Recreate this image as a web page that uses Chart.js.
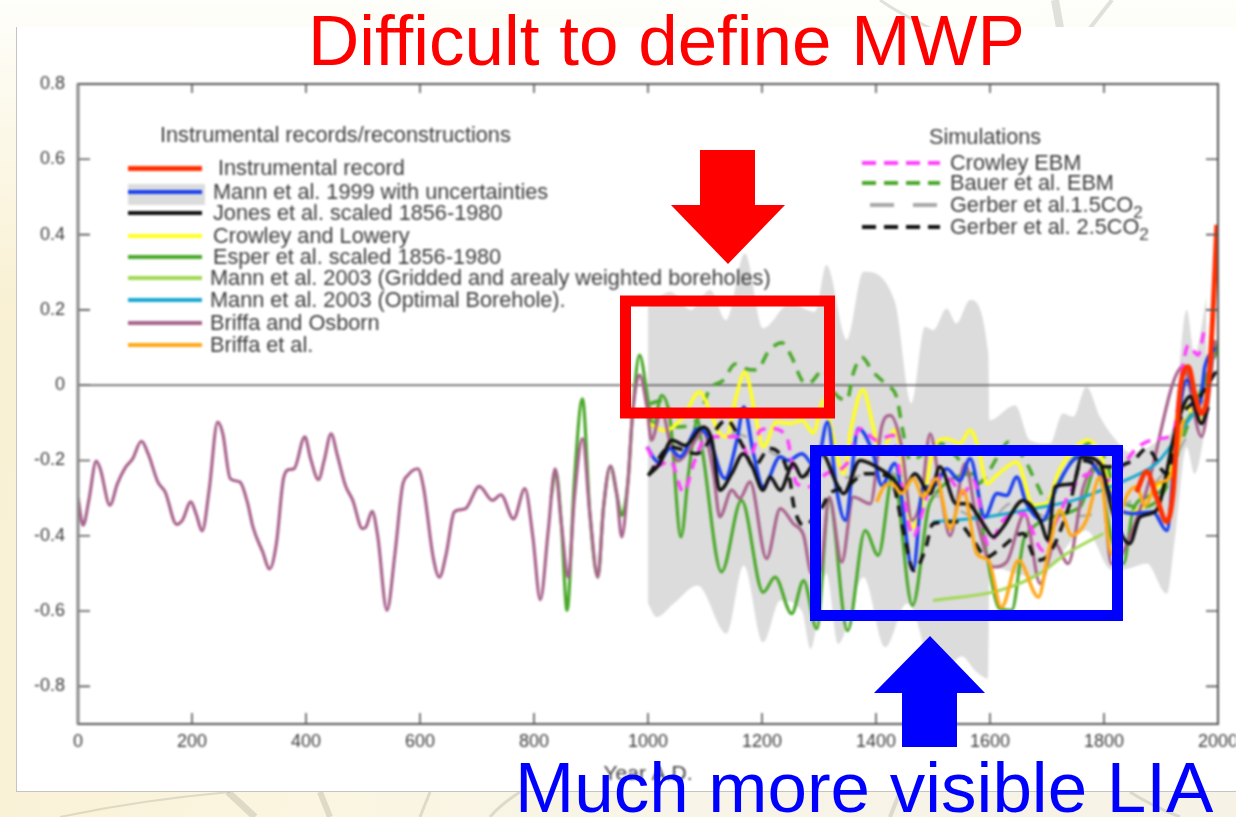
<!DOCTYPE html>
<html>
<head>
<meta charset="utf-8">
<title>Difficult to define MWP</title>
<script src="https://cdn.jsdelivr.net/npm/chart.js@4"></script>
<style>
    html, body { margin: 0; padding: 0; width: 1236px; height: 817px; overflow: hidden; background: #fff; }
    body { position: relative; font-family: "Liberation Sans", Arial, sans-serif; }
    .back { position: absolute; left: 0; top: 0; width: 1236px; height: 817px;
            background: linear-gradient(100deg, #f9f0d2 0%, #fbf5e0 30%, #f8f5e8 60%, #f6f3e6 100%); }
    .backTop { position: absolute; left: 0; top: 0; width: 1236px; height: 300px;
            background: linear-gradient(180deg, #fefefa 0%, rgba(254,254,250,0) 100%); }
    .panel { position: absolute; left: 16px; top: 27px; width: 1220px; height: 765px; background: #fff;
             border-left: 1px solid #c4c4c0; border-bottom: 1px solid #c4c4c0; box-sizing: border-box; }
    .soft { position: absolute; left: 0; top: 0; width: 1236px; height: 817px; filter: blur(0.8px); }
    canvas { position: absolute; left: 0; top: 0; }
    .legTitle, .legRow { position: absolute; color: #3c3c3c; font-size: 21.7px; line-height: 20px; white-space: nowrap; }
    .swatch { position: absolute; height: 0; }
    .bandSwatch { position: absolute; left: 128px; top: 184px; width: 77px; height: 21px; background: #dcdcdc; }
    sub { font-size: 17px; line-height: 0; vertical-align: -6px; }
    .big { position: absolute; font-size: 71px; line-height: 71px; white-space: nowrap; }
    svg.over, svg.sketch { position: absolute; left: 0; top: 0; }
</style>
</head>
<body>
<div class="back"></div>
<div class="backTop"></div>
<svg class="sketch" width="1236" height="817" fill="none" stroke="#8c8c80" stroke-opacity="0.25">
    <path d="M1055 0 L1060 28" stroke-width="8"/>
    <path d="M1112 0 L1090 28" stroke-width="4"/>
    <path d="M880 0 Q900 14 930 28" stroke-width="3"/>
    <path d="M60 817 Q140 800 230 792" stroke-width="2"/>
    <path d="M228 792 L255 817" stroke-width="7"/>
    <path d="M320 792 L330 817" stroke-width="6"/>
    <path d="M430 792 L420 817" stroke-width="3"/>
    <path d="M520 792 Q500 805 490 817" stroke-width="3"/>
    <path d="M900 792 L890 817" stroke-width="4"/>
    <path d="M1130 792 Q1150 805 1180 817" stroke-width="3"/>
</svg>
<div class="panel"></div>

<div class="soft">
    <canvas id="chart" width="1236" height="817"></canvas>
    <div class="bandSwatch"></div>
    <div id="legend"></div>
</div>

<svg class="over" width="1236" height="817">
    <rect x="625.5" y="301" width="204" height="112" fill="none" stroke="#ff0000" stroke-width="11"/>
    <rect x="815.5" y="450.5" width="302" height="165" fill="none" stroke="#0000ff" stroke-width="11"/>
    <path d="M700 150 H755 V205 H785 L728 264 L671 205 H700 Z" fill="#ff0000"/>
    <path d="M902 747 H957 V693 H985 L930 636 L874 693 H902 Z" fill="#0000ff"/>
</svg>
<div class="big" style="left:308px; top:5px; color:#ff0000;">Difficult to define MWP</div>
<div class="big" style="left:515px; top:752px; color:#0000ff;">Much more visible LIA</div>

<script>
    // --- Datos (anio, anomalia) ---
    const xTicks = [0, 200, 400, 600, 800, 1000, 1200, 1400, 1600, 1800, 2000];
    const yTicks = [-0.8, -0.6, -0.4, -0.2, 0, 0.2, 0.4, 0.6, 0.8];

    const zeroYears = [0, 2000];
    const zeroValues = [0, 0];

    const bandUpperYears = [1000, 1039, 1075, 1109, 1137, 1170, 1202, 1249, 1293, 1313, 1349, 1378, 1433, 1462, 1486, 1500, 1524, 1541, 1565, 1597, 1599, 1644, 1670, 1705, 1728, 1746, 1769, 1793, 1816, 1851, 1898, 1921, 1945, 1959, 1980];
    const bandUpperValues = [0.208, 0.248, 0.2, 0.253, 0.173, 0.35, 0.151, 0.217, 0.195, 0.319, 0.12, 0.301, 0.222, -0.049, 0.155, 0.146, 0.204, 0.164, 0.226, 0.084, -0.093, -0.053, -0.146, -0.155, -0.075, -0.084, -0.004, -0.084, -0.137, -0.182, -0.146, -0.111, 0.2, 0.084, 0.235];
    const bandLowerYears = [1000, 1015, 1045, 1087, 1138, 1168, 1202, 1232, 1270, 1285, 1313, 1334, 1378, 1416, 1454, 1466, 1490, 1520, 1550, 1575, 1597, 1599, 1676, 1705, 1769, 1813, 1834, 1875, 1910, 1924, 1945, 1959, 1980];
    const bandLowerValues = [-0.58, -0.616, -0.58, -0.532, -0.66, -0.479, -0.683, -0.572, -0.6, -0.7, -0.5, -0.687, -0.51, -0.696, -0.58, -0.6, -0.72, -0.76, -0.72, -0.76, -0.78, -0.483, -0.51, -0.483, -0.386, -0.49, -0.49, -0.474, -0.554, -0.412, -0.164, -0.235, -0.1];

    const osbornYears = [0, 9, 19, 32, 39, 56, 69, 83, 96, 111, 124, 140, 153, 173, 183, 198, 207, 218, 230, 245, 254, 267, 284, 297, 307, 324, 336, 348, 361, 371, 379, 398, 408, 422, 432, 444, 455, 469, 482, 499, 505, 516, 526, 542, 556, 569, 579, 596, 606, 623, 634, 646, 660, 670, 680, 704, 727, 742, 764, 784, 798, 811, 825, 837, 848, 860, 871, 885, 898, 912, 922, 934, 945, 954, 965, 973, 985, 998, 1006, 1024, 1039, 1053, 1074, 1097, 1115, 1126, 1147, 1161, 1179, 1208, 1232, 1255, 1273, 1287, 1302, 1318, 1340, 1360, 1390, 1410, 1425, 1445, 1463, 1480, 1495, 1512, 1530, 1556, 1577, 1606, 1629, 1661, 1688, 1714, 1737, 1764, 1793, 1813, 1869, 1939, 1971, 1995];
    const osbornValues = [-0.3, -0.372, -0.306, -0.202, -0.222, -0.319, -0.262, -0.219, -0.195, -0.149, -0.186, -0.257, -0.284, -0.37, -0.359, -0.31, -0.341, -0.387, -0.279, -0.098, -0.129, -0.248, -0.257, -0.31, -0.377, -0.443, -0.488, -0.421, -0.244, -0.224, -0.222, -0.137, -0.195, -0.251, -0.199, -0.129, -0.186, -0.266, -0.306, -0.381, -0.377, -0.335, -0.403, -0.598, -0.448, -0.27, -0.239, -0.222, -0.27, -0.456, -0.51, -0.448, -0.337, -0.331, -0.328, -0.269, -0.306, -0.291, -0.355, -0.275, -0.403, -0.57, -0.386, -0.222, -0.368, -0.51, -0.297, -0.142, -0.341, -0.51, -0.324, -0.215, -0.288, -0.403, -0.253, -0.075, 0.027, -0.058, -0.146, -0.066, -0.155, -0.201, -0.168, -0.124, -0.235, -0.35, -0.279, -0.301, -0.257, -0.461, -0.328, -0.368, -0.399, -0.5, -0.49, -0.297, -0.47, -0.297, -0.315, -0.11, -0.08, -0.164, -0.359, -0.293, -0.129, -0.27, -0.4, -0.208, -0.359, -0.483, -0.47, -0.341, -0.527, -0.421, -0.474, -0.27, -0.208, -0.474, -0.306, 0.05, -0.137, 0.12];

    const esperYears = [830, 838, 848, 858, 871, 885, 898, 912, 922, 934, 945, 954, 965, 973, 985, 1001, 1009, 1024, 1039, 1058, 1071, 1087, 1097, 1129, 1164, 1202, 1223, 1252, 1273, 1296, 1318, 1350, 1381, 1404, 1430, 1464, 1492, 1500, 1570, 1594, 1617, 1638, 1661, 1758, 1787, 1813, 1834, 1851, 1875, 1910, 1933, 1957, 1974, 2000];
    const esperValues = [-0.3, -0.226, -0.368, -0.598, -0.25, -0.036, -0.341, -0.51, -0.324, -0.215, -0.288, -0.346, -0.253, -0.075, 0.08, -0.049, -0.11, -0.027, -0.093, -0.403, -0.235, -0.093, -0.19, -0.496, -0.306, -0.55, -0.51, -0.607, -0.519, -0.647, -0.306, -0.652, -0.386, -0.452, -0.235, -0.585, -0.324, -0.297, -0.235, -0.448, -0.594, -0.598, -0.403, -0.324, -0.217, -0.403, -0.474, -0.332, -0.297, -0.26, -0.129, -0.066, -0.004, 0.11];

    const crowleyYears = [1000, 1030, 1062, 1090, 1106, 1126, 1138, 1153, 1170, 1188, 1202, 1226, 1249, 1270, 1290, 1308, 1322, 1343, 1357, 1377, 1395, 1407, 1433, 1448, 1464, 1483, 1500, 1524, 1547, 1565, 1579, 1595, 1612, 1647, 1676, 1699, 1723, 1772, 1793, 1810, 1834, 1872, 1892, 1916, 1933, 1971];
    const crowleyValues = [-0.1, -0.12, -0.084, -0.018, -0.058, -0.129, -0.137, -0.04, 0.035, -0.075, -0.164, -0.098, -0.102, -0.093, -0.127, -0.04, -0.12, -0.235, -0.11, -0.012, -0.11, -0.182, -0.12, -0.217, -0.377, -0.306, -0.173, -0.142, -0.155, -0.12, -0.164, -0.262, -0.239, -0.204, -0.319, -0.315, -0.222, -0.146, -0.182, -0.27, -0.341, -0.319, -0.27, -0.235, -0.05, -0.093];

    const mann1999Years = [998, 1018, 1039, 1056, 1088, 1106, 1135, 1156, 1168, 1185, 1202, 1232, 1246, 1270, 1295, 1315, 1331, 1346, 1369, 1395, 1410, 1433, 1465, 1483, 1500, 1524, 1547, 1565, 1591, 1612, 1629, 1647, 1664, 1693, 1717, 1758, 1775, 1805, 1828, 1851, 1886, 1910, 1927, 1945, 1968, 1977, 1995];
    const mann1999Values = [-0.164, -0.204, -0.168, -0.19, -0.115, -0.137, -0.248, -0.146, -0.058, -0.182, -0.27, -0.19, -0.2, -0.182, -0.22, -0.098, -0.279, -0.359, -0.115, -0.182, -0.266, -0.208, -0.492, -0.27, -0.27, -0.222, -0.253, -0.195, -0.35, -0.288, -0.293, -0.244, -0.315, -0.359, -0.27, -0.19, -0.2, -0.27, -0.332, -0.341, -0.337, -0.386, -0.137, 0.013, -0.049, 0.049, 0.1];

    const jonesYears = [1000, 1020, 1042, 1065, 1097, 1112, 1126, 1147, 1167, 1182, 1202, 1214, 1232, 1255, 1270, 1305, 1331, 1343, 1372, 1401, 1427, 1448, 1468, 1495, 1512, 1541, 1560, 1588, 1606, 1623, 1658, 1688, 1702, 1714, 1746, 1761, 1793, 1816, 1845, 1863, 1892, 1927, 1951, 1971, 1983];
    const jonesValues = [-0.24, -0.21, -0.146, -0.16, -0.111, -0.146, -0.279, -0.235, -0.182, -0.213, -0.279, -0.244, -0.279, -0.208, -0.244, -0.182, -0.262, -0.288, -0.2, -0.217, -0.244, -0.279, -0.235, -0.288, -0.217, -0.315, -0.315, -0.368, -0.403, -0.377, -0.306, -0.359, -0.412, -0.27, -0.262, -0.19, -0.208, -0.341, -0.421, -0.35, -0.332, -0.11, -0.03, -0.102, -0.058];

    const gerber25Years = [1001, 1039, 1085, 1138, 1167, 1185, 1214, 1249, 1255, 1273, 1302, 1319, 1349, 1381, 1425, 1448, 1466, 1486, 1500, 1541, 1571, 1594, 1614, 1658, 1682, 1699, 1740, 1761, 1805, 1851, 1875, 1910, 1933, 1968, 1998];
    const gerber25Values = [-0.239, -0.164, -0.182, -0.093, -0.164, -0.217, -0.168, -0.253, -0.315, -0.372, -0.332, -0.288, -0.27, -0.235, -0.244, -0.386, -0.492, -0.439, -0.368, -0.363, -0.412, -0.457, -0.439, -0.394, -0.465, -0.457, -0.315, -0.2, -0.217, -0.2, -0.168, -0.235, -0.093, -0.031, 0.04];

    const gerber15Years = [1085, 1132, 1156, 1220, 1313, 1355, 1419, 1600, 1635, 1705, 1910, 1998];
    const gerber15Values = [-0.182, -0.129, -0.13, -0.182, -0.253, -0.244, -0.235, -0.359, -0.315, -0.35, -0.225, 0.04];

    const crowleyEbmYears = [998, 1018, 1039, 1062, 1082, 1103, 1156, 1179, 1197, 1214, 1243, 1261, 1284, 1313, 1349, 1372, 1401, 1430, 1442, 1466, 1477, 1500, 1524, 1553, 1571, 1597, 1623, 1658, 1693, 1717, 1746, 1775, 1805, 1860, 1895, 1921, 1939, 1948, 1965, 1977];
    const crowleyEbmValues = [-0.164, -0.213, -0.2, -0.284, -0.2, -0.137, -0.137, -0.19, -0.12, -0.115, -0.137, -0.262, -0.27, -0.235, -0.208, -0.115, -0.146, -0.133, -0.235, -0.403, -0.359, -0.253, -0.244, -0.288, -0.253, -0.425, -0.359, -0.341, -0.439, -0.359, -0.27, -0.235, -0.253, -0.164, -0.142, -0.129, 0.058, 0.106, 0.08, 0.155];

    const bauerYears = [1004, 1027, 1050, 1085, 1109, 1132, 1153, 1170, 1191, 1211, 1235, 1252, 1270, 1281, 1308, 1328, 1349, 1360, 1375, 1395, 1419, 1436, 1448, 1460, 1512, 1547, 1577, 1617, 1632, 1658, 1682, 1699, 1740, 1781, 1805, 1822, 1869, 1910, 1933, 1957, 2000];
    const bauerValues = [-0.049, -0.04, -0.111, -0.093, -0.009, 0.013, 0.056, 0.044, 0.04, 0.089, 0.113, 0.075, 0.013, 0.004, 0.04, -0.022, -0.04, 0.031, 0.074, 0.035, 0, -0.031, -0.129, -0.2, -0.155, -0.2, -0.262, -0.182, -0.151, -0.19, -0.262, -0.306, -0.208, -0.151, -0.208, -0.297, -0.324, -0.27, -0.164, -0.066, 0.1];

    const briffaYears = [1401, 1416, 1428, 1445, 1465, 1483, 1506, 1530, 1553, 1577, 1597, 1620, 1650, 1685, 1702, 1723, 1743, 1769, 1793, 1813, 1834, 1857, 1872, 1892, 1916, 1940];
    const briffaValues = [-0.31, -0.266, -0.262, -0.288, -0.248, -0.297, -0.248, -0.381, -0.279, -0.448, -0.465, -0.59, -0.465, -0.563, -0.448, -0.332, -0.399, -0.359, -0.244, -0.448, -0.315, -0.27, -0.319, -0.262, -0.244, -0.09];

    const optimalYears = [1500, 1594, 1676, 1746, 1810, 1863, 1892, 1916, 1957];
    const optimalValues = [-0.363, -0.35, -0.328, -0.306, -0.27, -0.235, -0.208, -0.164, -0.075];

    const griddedYears = [1500, 1617, 1688, 1734, 1799];
    const griddedValues = [-0.572, -0.545, -0.5, -0.448, -0.394];

    const instrumentalYears = [1857, 1875, 1892, 1910, 1921, 1933, 1948, 1959, 1971, 1983, 1992, 1998];
    const instrumentalValues = [-0.284, -0.23, -0.297, -0.363, -0.288, -0.022, 0.049, -0.022, -0.075, -0.004, 0.217, 0.426];

    // --- Leyenda ---
    const leftTitle = 'Instrumental records/reconstructions';
    const leftNames = ['Instrumental record', 'Mann et al. 1999 with uncertainties', 'Jones et al. scaled 1856-1980', 'Crowley and Lowery', 'Esper et al. scaled 1856-1980', 'Mann et al. 2003 (Gridded and arealy weighted boreholes)', 'Mann et al. 2003 (Optimal Borehole).', 'Briffa and Osborn', 'Briffa et al.'];
    const leftColors = ['#ff3000', '#1a40f0', '#111111', '#ffff20', '#4aa82a', '#a0d850', '#18a8d0', '#a8638c', '#ffa818'];
    const leftTops = [168, 192, 213, 236, 257, 278, 300, 323, 345];
    const leftX = [218, 213, 213, 213, 213, 210, 210, 210, 210];

    const rightTitle = 'Simulations';
    const rightNames = ['Crowley EBM', 'Bauer et al. EBM', 'Gerber et al.1.5CO<sub>2</sub>', 'Gerber et al. 2.5CO<sub>2</sub>'];
    const rightColors = ['#ff40ff', '#4aa82a', '#a8a8a8', '#111111'];
    const rightTops = [163, 183, 205, 227];
    const rightX = [862, 862, 870, 862];
    const rightWidths = [78, 78, 67, 78];
    const rightDash = [14, 14, 24, 14];
    const rightGap = [8, 8, 19, 8];

    function pts(years, values) {
        return years.map((x, i) => ({ x: x, y: values[i] }));
    }

    function serie(label, years, values, color, width, dash) {
        return {
            label: label,
            data: pts(years, values),
            borderColor: color,
            borderWidth: width,
            borderDash: dash || [],
            pointRadius: 0,
            cubicInterpolationMode: 'monotone',
            fill: false
        };
    }

    // --- Marco y marcas hacia adentro ---
    const frameTicks = {
        id: 'frameTicks',
        afterDatasetsDraw(chart) {
            const { ctx, chartArea: a, scales } = chart;
            ctx.save();
            ctx.strokeStyle = '#555';
            ctx.lineWidth = 1.6;
            ctx.beginPath();
            xTicks.forEach(v => {
                const px = scales.x.getPixelForValue(v);
                ctx.moveTo(px, a.bottom); ctx.lineTo(px, a.bottom - 11);
                ctx.moveTo(px, a.top); ctx.lineTo(px, a.top + 9);
            });
            yTicks.forEach(v => {
                const py = scales.y.getPixelForValue(v);
                ctx.moveTo(a.left, py); ctx.lineTo(a.left + 12, py);
                ctx.moveTo(a.right, py); ctx.lineTo(a.right - 12, py);
            });
            ctx.stroke();
            ctx.lineWidth = 2;
            ctx.strokeRect(a.left, a.top, a.right - a.left, a.bottom - a.top);
            ctx.strokeStyle = '#888';
            ctx.lineWidth = 3;
            ctx.beginPath();
            ctx.moveTo(a.left, a.top);
            ctx.lineTo(a.left, a.bottom);
            ctx.stroke();
            ctx.restore();
        }
    };

    const ctx = document.getElementById('chart').getContext('2d');
    new Chart(ctx, {
        type: 'line',
        plugins: [frameTicks],
        data: {
            datasets: [
                serie('Instrumental record', instrumentalYears, instrumentalValues, '#ff3000', 5),
                serie('Briffa et al.', briffaYears, briffaValues, '#ffa818', 3.5),
                serie('Gerber et al. 2.5CO2', gerber25Years, gerber25Values, '#111111', 3.5, [11, 8]),
                serie('Jones et al. scaled 1856-1980', jonesYears, jonesValues, '#111111', 3.5),
                serie('Crowley EBM', crowleyEbmYears, crowleyEbmValues, '#ff40ff', 3.5, [11, 8]),
                serie('Mann et al. 1999 with uncertainties', mann1999Years, mann1999Values, '#1a40f0', 3.5),
                serie('Mann et al. 2003 (Optimal Borehole).', optimalYears, optimalValues, '#18a8d0', 3),
                serie('Mann et al. 2003 (Gridded and arealy weighted boreholes)', griddedYears, griddedValues, '#a0d850', 3),
                serie('Briffa and Osborn', osbornYears, osbornValues, '#a8638c', 3.2),
                serie('Crowley and Lowery', crowleyYears, crowleyValues, '#ffff20', 3.5),
                serie('Gerber et al.1.5CO2', gerber15Years, gerber15Values, '#a8a8a8', 2.5, [16, 26]),
                serie('Bauer et al. EBM', bauerYears, bauerValues, '#4aa82a', 3.5, [12, 9]),
                serie('Esper et al. scaled 1856-1980', esperYears, esperValues, '#4aa82a', 3.2),
                serie('Cero', zeroYears, zeroValues, '#555555', 1.6),
                {
                    label: 'Incertidumbre superior',
                    data: pts(bandUpperYears, bandUpperValues),
                    borderWidth: 0,
                    pointRadius: 0,
                    cubicInterpolationMode: 'monotone',
                    backgroundColor: '#dcdcdc',
                    fill: '+1'
                },
                {
                    label: 'Incertidumbre inferior',
                    data: pts(bandLowerYears, bandLowerValues),
                    borderWidth: 0,
                    pointRadius: 0,
                    cubicInterpolationMode: 'monotone',
                    fill: false
                }
            ]
        },
        options: {
            responsive: false,
            animation: false,
            layout: { padding: { top: 84, right: 18, bottom: 30 } },
            plugins: { legend: { display: false }, tooltip: { enabled: false } },
            scales: {
                x: {
                    type: 'linear',
                    min: 0,
                    max: 2000,
                    afterFit: s => { s.height = 63; s.paddingLeft = 0; s.paddingRight = 0; },
                    afterBuildTicks: s => { s.ticks = xTicks.map(v => ({ value: v })); },
                    grid: { display: false },
                    border: { display: false },
                    ticks: {
                        color: '#3c3c3c',
                        font: { family: 'Liberation Sans', size: 18 },
                        padding: -1,
                        maxRotation: 0,
                        callback: v => String(v)
                    },
                    title: { display: true, text: 'Year A.D.', color: '#3c3c3c', font: { family: 'Liberation Sans', size: 21 }, padding: 0 }
                },
                y: {
                    min: -0.9,
                    max: 0.8,
                    afterFit: s => { s.width = 78; },
                    afterBuildTicks: s => { s.ticks = yTicks.map(v => ({ value: v })); },
                    grid: { display: false },
                    border: { display: false },
                    ticks: {
                        color: '#3c3c3c',
                        font: { family: 'Liberation Sans', size: 18 },
                        padding: 5,
                        callback: v => (v === 0 ? '0' : v.toFixed(1))
                    }
                }
            }
        }
    });

    // --- Leyenda en HTML ---
    const legend = document.getElementById('legend');

    function addText(cls, html, left, centerY) {
        const el = document.createElement('div');
        el.className = cls;
        el.innerHTML = html;
        el.style.left = left + 'px';
        el.style.top = (centerY - 10) + 'px';
        legend.appendChild(el);
    }

    function addSwatch(left, width, centerY, color, weight, dash, gap) {
        const el = document.createElement('div');
        el.className = 'swatch';
        el.style.left = left + 'px';
        el.style.width = width + 'px';
        el.style.top = (centerY - weight / 2) + 'px';
        el.style.height = weight + 'px';
        el.style.background = dash
            ? `repeating-linear-gradient(90deg, ${color} 0, ${color} ${dash}px, transparent ${dash}px, transparent ${dash + gap}px)`
            : color;
        legend.appendChild(el);
    }

    addText('legTitle', leftTitle, 160, 135);
    leftNames.forEach((name, i) => {
        addText('legRow', name, leftX[i], leftTops[i]);
        addSwatch(128, 74, leftTops[i], leftColors[i], i === 0 ? 5 : 4);
    });

    addText('legTitle', rightTitle, 929, 137);
    rightNames.forEach((name, i) => {
        addText('legRow', name, 950, rightTops[i]);
        addSwatch(rightX[i], rightWidths[i], rightTops[i], rightColors[i], 4, rightDash[i], rightGap[i]);
    });
</script>
</body>
</html>
